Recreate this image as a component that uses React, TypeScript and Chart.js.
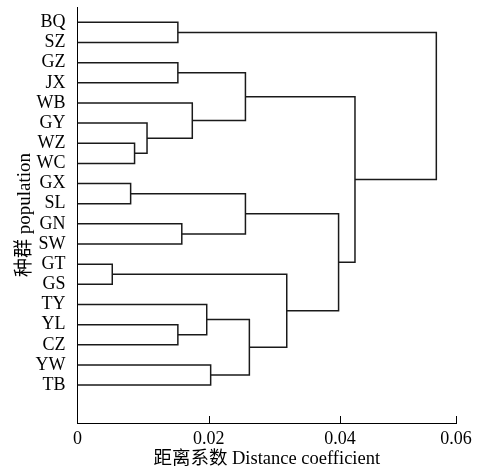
import React, { useEffect, useRef } from "react";
import { Chart, registerables } from "chart.js";

Chart.register(...registerables);

// Leaf populations, top to bottom
const leaves = [
  "BQ", "SZ", "GZ", "JX", "WB", "GY", "WZ", "WC", "GX", "SL",
  "GN", "SW", "GT", "GS", "TY", "YL", "CZ", "YW", "TB",
];

// Linkage (scipy-style): ids < leaves.length are leaves, others are merges (leaves.length + k)
const linkA = [0, 2, 6, 5, 4, 20, 8, 10, 25, 12, 15, 14, 17, 30, 28, 27, 24, 19];
const linkB = [1, 3, 7, 21, 22, 23, 9, 11, 26, 13, 16, 29, 18, 31, 32, 33, 34, 35];
const linkDist = [
  0.0153, 0.0153, 0.0087, 0.0106, 0.0175, 0.0256, 0.0081, 0.0159, 0.0256,
  0.0053, 0.0153, 0.0197, 0.0203, 0.0262, 0.0319, 0.0398, 0.0423, 0.0547,
];

// X axis ticks (last tick sits at the axis end)
const xAxisEnd = 0.0577;
const xTickValues = [0, 0.02, 0.04, xAxisEnd];
const xTickLabels = ["0", "0.02", "0.04", "0.06"];

const xTitle = "距离系数 Distance coefficient";
const yTitle = "种群 population";

const FONT = "'Liberation Serif', 'Times New Roman', 'Noto Sans CJK SC', serif";
const LINE = "#1a1a1a";

function buildLinks() {
  const n = leaves.length;
  const pos: { x: number; y: number }[] = leaves.map((_, i) => ({ x: 0, y: i }));
  const datasets: any[] = [];
  linkDist.forEach((d, k) => {
    const a = pos[linkA[k]];
    const b = pos[linkB[k]];
    datasets.push({
      data: [
        { x: a.x, y: a.y },
        { x: d, y: a.y },
        { x: d, y: b.y },
        { x: b.x, y: b.y },
      ],
      showLine: true,
      borderColor: LINE,
      borderWidth: 1.5,
      pointRadius: 0,
      fill: false,
      tension: 0,
    });
    pos[n + k] = { x: d, y: (a.y + b.y) / 2 };
  });
  return datasets;
}

const innerTicks = {
  id: "innerTicks",
  afterDraw(chart: any) {
    const { ctx, chartArea, scales } = chart;
    const xs = scales.x;
    ctx.save();
    ctx.strokeStyle = "#000";
    ctx.lineWidth = 1;
    xTickValues.forEach((v, i) => {
      if (i === 0) return;
      const px = Math.round(xs.getPixelForValue(v)) + 0.5;
      ctx.beginPath();
      ctx.moveTo(px, chartArea.bottom);
      ctx.lineTo(px, chartArea.bottom - 7);
      ctx.stroke();
    });
    ctx.restore();
  },
};

export default function App() {
  const ref = useRef<HTMLCanvasElement>(null);
  useEffect(() => {
    if (!ref.current) return;
    const chart = new Chart(ref.current, {
      type: "scatter",
      data: { datasets: buildLinks() },
      options: {
        animation: false,
        responsive: false,
        devicePixelRatio: 1,
        layout: { padding: { left: 0, top: 7, right: 30, bottom: 0 } },
        plugins: { legend: { display: false }, tooltip: { enabled: false } },
        scales: {
          x: {
            type: "linear",
            position: "bottom",
            min: 0,
            max: xAxisEnd,
            grid: { display: false, drawTicks: false },
            border: { display: true, color: "#000", width: 1 },
            afterBuildTicks: (s: any) => {
              s.ticks = xTickValues.map((v) => ({ value: v }));
            },
            afterFit: (s: any) => {
              s.height = 47;
              s.paddingLeft = 0;
              s.paddingRight = 0;
            },
            ticks: {
              autoSkip: false,
              maxRotation: 0,
              padding: 5,
              color: "#000",
              font: { family: FONT, size: 18 },
              callback: (_v: any, i: number) => xTickLabels[i],
            },
            title: {
              display: true,
              text: xTitle,
              color: "#000",
              font: { family: FONT, size: 18.5 },
              padding: { top: 0, bottom: 0 },
            },
          },
          y: {
            type: "linear",
            reverse: true,
            min: -0.76,
            max: 19.88,
            grid: { display: false, drawTicks: false },
            border: { display: true, color: "#000", width: 1 },
            afterBuildTicks: (s: any) => {
              s.ticks = leaves.map((_, i) => ({ value: i }));
            },
            afterFit: (s: any) => {
              s.width = 77.5;
              s.paddingTop = 0;
              s.paddingBottom = 0;
            },
            ticks: {
              autoSkip: false,
              padding: 12,
              color: "#000",
              font: { family: FONT, size: 18 },
              callback: (v: any) => leaves[v as number],
            },
            title: {
              display: true,
              text: yTitle,
              color: "#000",
              font: { family: FONT, size: 19 },
              padding: { top: 14, bottom: 0 },
            },
          },
        },
      },
      plugins: [innerTicks],
    });
    return () => chart.destroy();
  }, []);
  return (
    <div style={{ position: "absolute", left: 0, top: 0, width: 486, height: 470, background: "#fff" }}>
      <canvas ref={ref} width={486} height={470} style={{ width: 486, height: 470, display: "block" }} />
    </div>
  );
}
